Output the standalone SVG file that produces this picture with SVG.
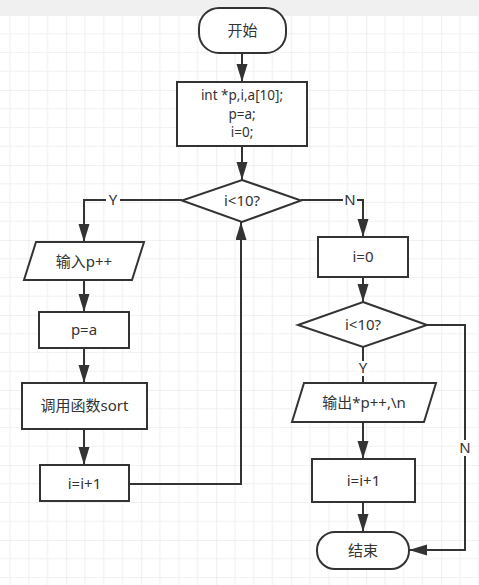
<svg xmlns="http://www.w3.org/2000/svg" width="479" height="585" viewBox="0 0 479 585">
<defs>
<pattern id="grid" patternUnits="userSpaceOnUse" x="-8.75" y="15" width="75" height="75">
<rect width="75" height="75" fill="#ffffff"/>
<path d="M18.75,0V75M37.5,0V75M56.25,0V75M0,18.75H75M0,37.5H75M0,56.25H75" stroke="#f2f2f2" stroke-width="1.2" fill="none"/>
<path d="M0,0V75M0,0H75" stroke="#e4e4e4" stroke-width="1.2" fill="none"/>
</pattern>
<marker id="arr" markerUnits="userSpaceOnUse" markerWidth="19" markerHeight="12" refX="18" refY="5.5" orient="auto">
<path d="M0,0L18,5.5L0,11z" fill="#333333"/>
</marker>
<style>
.s{fill:#ffffff;stroke:#333333;stroke-width:2}
.c{fill:none;stroke:#333333;stroke-width:2}
.t{font-family:"Noto Sans","Noto Sans CJK SC",sans-serif;font-size:15px;fill:#333333;text-anchor:middle}
.sm{font-size:13.5px}
.lb{fill:#ffffff}
</style>
</defs>
<rect width="479" height="585" fill="url(#grid)"/>
<rect width="479" height="15" fill="#f0f0f0"/>

<g id="connectors">
<path class="c" d="M242,53V82" marker-end="url(#arr)"/>
<path class="c" d="M242,146V180" marker-end="url(#arr)"/>
<path class="c" d="M182,200H84V242" marker-end="url(#arr)"/>
<path class="c" d="M84,280V312" marker-end="url(#arr)"/>
<path class="c" d="M84,348V383" marker-end="url(#arr)"/>
<path class="c" d="M84,429V465" marker-end="url(#arr)"/>
<path class="c" d="M129,484H241V222" marker-end="url(#arr)"/>
<path class="c" d="M301,200H363V237" marker-end="url(#arr)"/>
<path class="c" d="M363,277V302" marker-end="url(#arr)"/>
<path class="c" d="M363,347V383"/>
<path class="c" d="M363,422V459" marker-end="url(#arr)"/>
<path class="c" d="M363,502V532" marker-end="url(#arr)"/>
<path class="c" d="M427,325H465V550H409" marker-end="url(#arr)"/>
<rect class="lb" x="106" y="192" width="14" height="16"/>
<text class="t" x="113" y="205">Y</text>
<rect class="lb" x="343" y="192" width="14" height="16"/>
<text class="t" x="350" y="205">N</text>
<rect class="lb" x="357" y="361" width="12" height="15"/>
<text class="t" x="363" y="373">Y</text>
<rect class="lb" x="458" y="440" width="14" height="16"/>
<text class="t" x="465" y="453">N</text>
</g>

<g id="start">
<rect class="s" x="199" y="8" width="87" height="45" rx="20" ry="20"/>
<text class="t" x="242.5" y="36">开始</text>
</g>
<g id="init">
<rect class="s" x="177" y="82" width="130" height="64"/>
<text class="t sm" x="242" y="100">int *p,i,a[10];</text>
<text class="t sm" x="242" y="118.5">p=a;</text>
<text class="t sm" x="242" y="137">i=0;</text>
</g>
<g id="cond1">
<polygon class="s" points="242,180 301,200.5 242,222 182,200.5"/>
<text class="t" x="242" y="206">i&lt;10?</text>
</g>
<g id="input">
<polygon class="s" points="36,242 144,242 132,280 24,280"/>
<text class="t" x="84" y="267">输入p++</text>
</g>
<g id="assign">
<rect class="s" x="39" y="312" width="90" height="36"/>
<text class="t" x="84" y="335">p=a</text>
</g>
<g id="sort">
<rect class="s" x="22" y="383" width="125" height="46"/>
<text class="t" x="84.5" y="411">调用函数sort</text>
</g>
<g id="inc1">
<rect class="s" x="40" y="465" width="89" height="36"/>
<text class="t" x="84.5" y="489">i=i+1</text>
</g>
<g id="reset">
<rect class="s" x="318" y="237" width="90" height="40"/>
<text class="t" x="363" y="262">i=0</text>
</g>
<g id="cond2">
<polygon class="s" points="363,302 427,325 363,347 298,325"/>
<text class="t" x="363" y="330">i&lt;10?</text>
</g>
<g id="output">
<polygon class="s" points="304,383 436,383 424,422 292,422"/>
<text class="t" x="364" y="408">输出*p++,\n</text>
</g>
<g id="inc2">
<rect class="s" x="312" y="459" width="103" height="43"/>
<text class="t" x="363.5" y="486">i=i+1</text>
</g>
<g id="end">
<rect class="s" x="317" y="532" width="92" height="37" rx="18" ry="18"/>
<text class="t" x="363" y="556">结束</text>
</g>
</svg>
